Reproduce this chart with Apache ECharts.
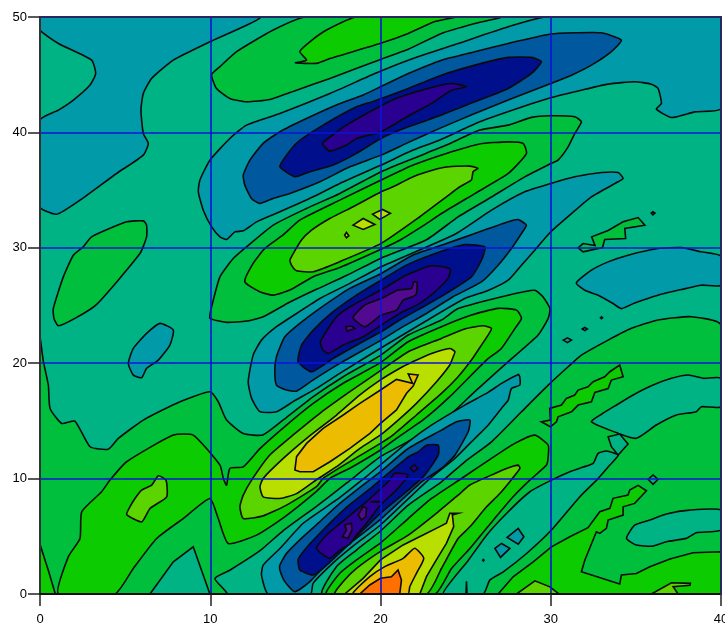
<!DOCTYPE html>
<html><head><meta charset="utf-8"><style>html,body{margin:0;padding:0;background:#fff}#c{width:725px;height:626px}</style>
<script src="https://cdn.jsdelivr.net/npm/echarts@6/dist/echarts.min.js"></script></head><body><div id="c"></div>
<script>
const xTicks=[0,10,20,30,40];
const yTicks=[0,10,20,30,40,50];
const levelColors=['#520a90','#2a0090','#000f8c','#00589e','#009aa8','#00b384','#00bf3c','#0ccb00','#5cd400','#b8df00','#ecbc00','#ff7000'];
const plotArea=[[0,0],[40,0],[40,50],[0,50]];
const lowTopLeft=[[0,50],[12.9,50],[9.98,47.85],[7.83,46.26],[6.56,44.68],[6.07,43.37],[5.93,41.93],[6.07,39.9],[6.36,39.04],[6.07,38.03],[4.5,36.44],[2.35,34.13],[0.98,32.91],[0,33.55],[0,41.06],[1.08,41.93],[1.96,42.8],[2.94,44.1],[3.27,45.1],[3.03,46.26],[1.08,47.7],[0,48.87]];
const upperL4=[[29.69,50],[27.5,49.15],[24.56,47.7],[21.63,46.26],[19.67,45.1],[17.03,43.37],[14.09,41.64],[12.13,40.63],[11.15,39.47],[9.98,37.59],[9.39,35.86],[9.3,34.85],[9.59,33.26],[10.08,31.81],[10.57,30.95],[10.96,30.72],[11.45,31.38],[11.94,31.47],[12.72,32.25],[14.09,33.12],[16.05,34.42],[17.61,35.58],[20.04,37.17],[21.92,38.47],[23.48,39.34],[25.83,40.92],[28.47,42.29],[30,43],[31.41,43.52],[33.37,44.18],[34.93,44.39],[35.91,44.18],[36.3,43.81],[36.5,42.51],[36.2,42.02],[37.09,41.29],[38.46,41.78],[40,42.07],[40,50]];
const upperL3=[[11.94,36.3],[12.33,37.6],[13.11,39.05],[14.09,40.06],[15.65,41.2],[17.41,42.37],[18.98,43.24],[20.06,44.0],[21.63,45.1],[23.58,46.26],[25.54,46.99],[27.5,47.71],[30,48.52],[31.41,48.63],[32.98,48.63],[34.15,48],[33.56,47],[32.39,45.83],[31.22,44.96],[30,44.24],[27.5,42.8],[25.54,41.64],[23.48,40.35],[21.52,39.05],[20.04,38.03],[18.2,37.02],[16.44,35.72],[14.68,34.71],[13.7,34.28],[12.91,33.84],[12.42,34.28],[12.03,35.43]];
const upperL2=[[14.09,37.02],[14.48,38.03],[15.16,39.19],[16.63,40.63],[18.59,42.22],[19.6,42.7],[21.63,43.81],[23.58,44.96],[25.93,45.98],[27.5,46.5],[28.87,46.5],[29.45,46.12],[28.87,45.11],[27.5,43.81],[25.54,42.65],[23.58,41.5],[21.63,40.48],[20.02,39.47],[18.59,38.18],[17.22,37.17],[15.85,36.59],[14.97,36.16]];
const upperL1=[[16.59,39.05],[17.32,39.91],[18,40.63],[19.57,41.94],[20.94,42.95],[23,43.89],[24.17,44.24],[25.05,43.95],[24.17,43.66],[23,42.51],[21.6,41.4],[20.04,40.06],[18.59,39.48],[18,38.9],[17.02,38.38]];
const topL6=[[15.6,50],[13.7,48.87],[11.55,47],[10.57,45.7],[10.08,45],[10.37,43.8],[11.15,42.94],[12.13,42.65],[13.5,42.85],[15.07,43.66],[17.03,44.68],[19.96,46.3],[21.63,47.2],[23.58,48.58],[25.54,49.44],[27.07,50]];
const topL7=[[18.6,50],[16.83,48.87],[15.85,47.85],[15.26,47],[15.66,46.26],[15,46.03],[16.24,45.98],[17.03,46.4],[19.96,47.7],[21.63,48.58],[23.19,49.6],[24.37,50]];
const ridgeL6=[[31.8,40.92],[31.41,41.35],[30,41.44],[28.87,41.3],[27.5,40.63],[25.83,40.2],[23.87,38.9],[21.92,37.74],[20.04,36.59],[17.61,34.71],[15.65,33.41],[13.7,31.97],[12.13,30.08],[11.35,29.07],[10.57,27.48],[10.08,24.88],[9.98,23.9],[10.96,23.54],[12.13,23.65],[13.11,24.03],[14.68,25.3],[16.24,26.4],[18,27.6],[20,29.08],[22.7,30.7],[24.56,32.68],[26.52,34.4],[28.47,36.15],[30,37.3],[30.43,37.6],[31.02,38.75],[31.41,39.9]];
const ridgeL7=[[12.03,27.06],[12.52,28.65],[13.21,29.95],[14.28,31.11],[15.26,32.4],[17.61,34.13],[20.04,35.87],[21.92,37.17],[23.87,38.18],[25.83,39.0],[27.5,39.18],[28.38,39.04],[28.57,38.17],[27.5,36.44],[25.54,34.7],[23.58,32.97],[22.7,32.1],[21.13,30.66],[20,29.86],[17.61,28.3],[16.05,27.5],[14.68,26.34],[13.7,25.9],[12.91,26.19]];
const ridgeL8=[[25.73,36.88],[25.24,37.08],[23.87,37],[23.29,36.82],[21.92,36.16],[20.74,35.29],[20.04,34.86],[18.39,33.56],[17.02,32.54],[15.95,31.53],[15.36,30.67],[14.68,28.94],[14.77,28.5],[15.07,28.01],[16.05,27.93],[17.61,28.8],[20.04,30.38],[22.31,32.69],[23.87,34.42],[24.66,35.29],[25.34,35.87],[25.44,36.6]];
const ridgeSpotA=[[18.39,31.96],[18.98,32.54],[19.67,32.02],[18.98,31.59]];
const ridgeSpotB=[[19.53,32.92],[20.12,33.32],[20.58,32.98],[19.96,32.46]];
const ridgeSpotC=[[17.89,31.1],[18,31.33],[18.14,31.04],[18,30.87]];
const leftBlobL4=[[5.19,19.98],[5.48,18.97],[5.97,18.74],[6.26,19.55],[6.95,20.27],[7.63,21.57],[7.83,22.87],[7.05,23.45],[6.26,22.58],[5.48,21.28]];
const leftBlobL6=[[0.78,24.73],[1.37,27.48],[1.96,29.36],[2.54,30.08],[3.03,30.95],[5.09,32.25],[6.07,32.33],[6.26,31.96],[6.26,30.95],[5.87,29.5],[3.33,25.1],[2.05,23.88],[1.08,23.25],[0.82,23.88]];
const rightBlobL4=[[31.5,26.96],[32.39,28.06],[33.37,28.78],[34.54,29.36],[36.3,29.94],[37.67,30.02],[38.84,29.65],[40,29.27],[40,26.76],[38.84,26.76],[37.67,26.38],[36.3,25.89],[34.93,25.22],[34.15,24.73],[33.66,25.17],[32.79,25.89],[32,26.32]];
const rightZigL6=[[31.6,30],[31.9,30.37],[32.6,30.2],[32.4,30.95],[33.37,31.5],[34.25,32.25],[35.13,32.62],[35.53,31.96],[34.35,31.67],[34.4,30.8],[33.17,30.72],[33.04,30.02],[31.9,29.65]];
const dotA=[[35.9,33],[36,33.12],[36.12,33],[36,32.85]];
const dotB=[[30.73,22],[30.98,22.2],[31.22,22],[30.98,21.78]];
const dotC=[[31.85,22.96],[32,23.1],[32.15,22.96],[32,22.82]];
const dotD=[[32.92,23.94],[32.98,24.02],[33.04,23.94],[32.98,23.86]];
const wideL6=[[0,22.15],[0.2,20.13],[0.49,18.1],[0.59,16.08],[1.27,14.78],[2.05,14.98],[2.94,12.76],[4.01,12.55],[4.6,13.48],[6.07,15.07],[8.22,16.66],[9.98,17.53],[10.47,16.66],[10.96,15.07],[11.94,13.91],[13.09,13.78],[14.29,15.08],[16.05,17.1],[17.81,18.83],[20,20.68],[21.63,22.44],[23.58,23.74],[24.56,24.73],[27.5,25.89],[29.06,26.32],[29.55,25.74],[29.95,24.73],[29.85,23.88],[29.26,22.44],[27.5,20.13],[25.54,17.54],[24.07,15.51],[22.11,13.6],[20,11.9],[18,9.6],[16.24,7.6],[14.29,5.5],[12.92,3.75],[11.15,2.06],[10.27,1.34],[10.96,0],[0,0]];
const bottomWedgeL5=[[6.46,0],[7.83,2.79],[9,4.09],[9.98,0]];
const cornerL7=[[0,0],[0.9,0],[0.5,2],[0,4.3]];
const wideL7=[[1.08,0],[1.66,3.22],[2.35,4.81],[2.45,7.12],[3.62,8.86],[4.11,9.87],[5.09,11.46],[7.83,13.77],[9,13.77],[10.57,11.17],[10.77,10],[10.96,9.43],[11.15,10.88],[11.94,11.02],[12.92,12.6],[14.48,14.64],[16.05,16.52],[17.81,18.26],[20,20.05],[21.63,21.86],[23.58,23.16],[25.34,24.17],[26.91,24.75],[27.99,24.6],[28.28,23.88],[27.89,23],[27.1,21.28],[26.22,20.27],[24.07,17.1],[22.5,15.08],[20.94,13.49],[20,12.48],[18.2,10.9],[17.03,10.02],[16.24,8.9],[14.29,6.6],[12.72,5.1],[11.06,4.38],[10.47,6.54],[9.98,8.28],[8.41,6.54],[6.85,4.81],[5.48,2.21],[4.4,0]];
const leftSpotL8=[[5.09,6.89],[5.97,6.25],[6.46,7.41],[7.44,8.42],[7.4,9.87],[6.95,10.24],[6.56,9.43],[5.97,9],[5.58,8.28],[5.28,7.55]];
const crestL8=[[11.74,7.55],[11.94,8.57],[12.43,9.87],[13.5,12.04],[14.87,13.78],[16.44,15.66],[18.2,17.53],[20,19.35],[21.63,20.99],[23.58,22.15],[24.95,22.96],[26.03,23.25],[26.52,23.02],[26.32,22.44],[25.93,21.57],[25.34,20.27],[24.56,18.83],[23.58,17.38],[22.11,15.51],[20.74,13.78],[20,13.05],[18.2,11.47],[16.63,10.02],[16.24,9.3],[14.48,7.7],[13.11,6.77],[11.94,6.54]];
const crestL9=[[12.92,9.29],[13.11,10.02],[14.29,11.75],[15.66,13.49],[17.42,15.51],[18.79,17.25],[20,18.55],[21.14,19.56],[21.92,20.14],[23,20.85],[24.07,21.28],[24.37,21],[24.27,20.56],[24.07,19.85],[23.29,18.4],[22.11,16.52],[21.14,15.2],[20,13.78],[18.79,12.62],[17.42,11.03],[16.24,9.9],[15.07,8.7],[14.09,8.28],[13.11,8.42]];
const crestL10=[[22.21,18.98],[21.63,19.07],[21.88,18.26],[20.94,18.6],[20,17.68],[18.79,16.52],[17.81,15.51],[16.63,14.36],[15.66,13.05],[15.07,11.9],[14.97,10.74],[15.26,10.6],[16.05,10.6],[17.03,11.46],[18.2,12.62],[19.38,13.92],[20,14.79],[20.94,15.95],[21.53,17.39],[21.92,18.03]];
const midL4=[[34.25,36],[33.96,36.52],[32.98,36.52],[31.41,36.15],[30,35.57],[28.47,34.85],[26.52,33.26],[24.4,31.2],[20.04,28.36],[18.2,26.92],[16.44,25.61],[15.07,24.31],[13.89,23.16],[13.01,22],[12.52,20.7],[12.23,18.4],[12.43,16.95],[12.92,15.8],[13.9,15.8],[14.87,16.67],[16.24,17.82],[17.61,19.12],[20,21.3],[22.5,23.5],[24.95,25.6],[26.32,26.3],[27.5,27.19],[28.28,28.49],[29.06,29.79],[30,31.39],[31.22,32.97],[32.39,34.42],[33.96,35.72]];
const midL3=[[13.79,19.4],[13.89,20.56],[14.38,22.29],[15.26,23.45],[16.44,24.75],[18.2,26.48],[20.04,27.78],[21.92,29.37],[23.58,30.22],[25.54,31.24],[27.5,32.25],[28.08,32.45],[28.57,31.96],[28.28,31.24],[27.69,29.94],[26.91,28.49],[25.93,27.04],[24.26,25.76],[22.7,24.31],[21.13,23],[20.04,22],[17.61,19.98],[16.03,18.53],[15.07,17.58],[14.48,17.67],[13.89,18.1]];
const midL2=[[15.16,20.12],[15.36,21.57],[16.05,22.87],[17.22,24.46],[18.59,25.9],[20.04,27.2],[21.52,28.5],[23.58,29.7],[24.96,30.28],[26.13,30.08],[25.93,28.92],[25.34,27.48],[23.87,26.05],[22.7,25.04],[21.13,23.74],[20.04,22.72],[18.78,21.71],[17.22,20.41],[15.95,19.26]];
const midL1=[[16.47,21.86],[17.42,24.03],[18.39,25.04],[20.04,26.34],[21.52,27.64],[22.89,28.42],[23.68,28.36],[24.11,28.13],[23.97,27.35],[23.09,26.05],[22.31,25.18],[21.13,24.31],[20.04,23.3],[18.98,22.29],[17.81,21.57],[16.93,20.85],[16.63,21.13]];
const midL0=[[18.39,23.97],[19.08,25.04],[20.04,25.61],[21.04,26.34],[21.82,26.48],[21.96,27.06],[22.15,27],[22.07,25.9],[21.33,25.47],[20.94,24.6],[20.04,24.17],[19.08,23.16]];
const midSpotL0=[[17.96,23.16],[18.3,23.22],[18.49,23.01],[18.04,22.78]];
const wideRightL6=[[20,5.46],[21.63,7.7],[23.58,9.72],[24.95,11.46],[26.52,13.19],[28.28,15.79],[29.85,18.1],[31.02,19.69],[31.8,20.7],[33.37,22],[34.74,23.02],[36.3,23.74],[38.26,24.03],[40,23.3],[40,0],[16.6,0],[17.41,2.37],[18.59,3.81]];
const tongueL5=[[23.68,0],[25.15,2.9],[26.23,5.1],[27.4,6.98],[28.77,8.86],[30.04,9.87],[31.12,10.6],[31.9,11],[32.49,11.32],[32.78,12.18],[33.27,12.39],[33.96,12.04],[33.47,11.17],[32.78,10],[31.71,8.43],[30.04,5.54],[28.58,3.51],[27.21,1.92],[26.42,1.2],[26.03,0]];
const tongueSpike=[[25.02,0],[25.05,1.1],[25.08,0]];
const tongueDot=[[26,2.93],[26.04,3.0],[26.08,2.93],[26.04,2.86]];
const tongueSpotA=[[27.44,4.9],[28.09,5.68],[28.42,4.96],[28.09,4.32]];
const tongueSpotB=[[26.72,3.95],[27.11,4.38],[27.6,3.95],[27.05,3.17]];
const rightL7=[[26.91,0],[27.79,1.49],[28.97,2.79],[30.04,4.09],[31.12,4.96],[32.19,5.75],[32.88,7.13],[33.47,7.42],[33.66,8.29],[34.54,8.57],[34.64,9.01],[35.13,9.41],[35.62,8.95],[34.93,7.85],[34.25,7.56],[34.25,6.84],[33.37,6.41],[33.27,5.69],[32.88,5.25],[32.68,5.39],[32,2.93],[31.8,1.92],[34.05,0.86],[34.15,1.64],[35.03,1.78],[35.82,2.36],[37,3.03],[38.36,3.57],[40,3.66],[40,0]];
const rightZigL7=[[29.45,14.92],[29.98,15.07],[29.94,16.08],[30.63,16.37],[30.92,16.95],[31.41,17.24],[31.61,17.67],[32.19,17.96],[32.49,18.39],[33.17,18.83],[33.47,19.26],[34.05,19.84],[34.25,18.83],[33.56,18.54],[33.37,17.81],[32.59,17.47],[32.39,16.66],[31.61,16.37],[31.22,15.79],[30.43,15.36],[30.34,14.92],[29.98,14.49]];
const bumpA=[[27.99,0],[29.07,1.14],[29.95,0.62],[30.49,0]];
const bumpB=[[35.91,0],[37.09,0.97],[38.2,0.92],[38.18,0.75],[37.19,0.63],[37.48,0]];
const rightBlobA=[[32.39,14.92],[33.0,15.6],[33.86,16.38],[34.84,17.25],[36.01,18.11],[37.09,18.69],[38.07,18.98],[38.95,18.69],[40,18.69],[40,16.23],[38.85,16.23],[38.55,15.8],[37.38,15.51],[36.2,14.64],[35.03,13.49],[33.96,13.92]];
const rightBlobB=[[34.45,4.82],[34.93,5.97],[35.82,6.41],[36.79,6.93],[38.16,7.27],[40,7.27],[40,5.54],[38.55,5.31],[37.97,4.82],[36.79,4.53],[36.01,4.15],[35.03,4.24]];
const rightChip=[[33.37,13.63],[34.05,13.86],[34.54,13],[33.96,12.04],[33.56,12.77]];
const rightDiamond=[[35.72,9.93],[36.01,10.31],[36.3,9.93],[36.01,9.5]];
const lowL4=[[13.4,0],[13.01,1.63],[13.11,2.5],[14.09,3.94],[15.46,6.13],[17.41,8.15],[19.18,10.2],[20,11.2],[21.63,13.19],[22.99,14.63],[24.95,16.37],[26.32,17.47],[27.11,18.25],[28.09,19.03],[28.18,18.83],[28.18,18.1],[27.69,17.81],[27.5,16.8],[27.1,16.08],[26.32,14.63],[25.54,13.48],[24.37,11.75],[22.8,9.87],[20,5.98],[18.59,4.39],[17.41,2.95],[16.04,0.92],[15.9,0]];
const lowL3=[[14.09,2.51],[14.48,3.52],[15.46,4.97],[16.44,6.27],[17.41,7.6],[18.59,9.0],[20,10.6],[21.63,12.61],[23.58,14.2],[24.46,14.93],[25.25,15.07],[25.15,14.06],[24.37,12.03],[23.58,10.88],[22.41,9.72],[20,6.47],[18.59,4.83],[17.41,3.52],[15.85,1.07],[14.97,0.2],[14.38,1.07],[14.09,2.08]];
const lowL2=[[15.16,2.95],[15.46,3.67],[16.44,5.26],[18,7.5],[19.37,9.1],[20,9.9],[21.63,11.89],[22.21,12.32],[22.7,12.9],[23.39,12.9],[23.39,12.03],[22.6,10.3],[21.63,9],[20,6.99],[18.98,5.55],[17.8,3.81],[16.63,2.22],[16.04,1.65],[15.26,2.08]];
const lowL1=[[16.24,3.96],[16.83,5.11],[18,6.56],[19.18,8],[20.55,9.88],[20.84,10.46],[21.62,10.32],[20.94,9.02],[20,7.71],[19.18,6.13],[18.59,5.11],[18.2,4.33],[17.61,3.81],[17.02,3.09]];
const lowSpotL1=[[21.75,10.9],[22,11.2],[22.2,10.85],[21.95,10.6]];
const lowMark=[[19.4,8],[20,8.03],[20,7.97]];
const lowL0A=[[18.69,6.85],[18.98,7.57],[19.18,7.43],[19.14,6.7],[18.88,6.41]];
const lowL0B=[[17.9,5.98],[18.29,6.13],[18.33,5.55],[18.1,4.83],[17.77,4.97],[18,5.55]];
const peakL7=[[16.83,0],[17.61,1.79],[18.59,2.95],[20.02,4.45],[21.63,6.54],[23,8.28],[24.76,10.01],[26.52,11.75],[27.89,13.05],[29.06,13.77],[29.85,12.9],[29.85,11.9],[29.75,11.17],[28.77,9.87],[27.79,8.43],[26.62,6.4],[25.25,3.95],[24.17,2.21],[23.19,0]];
const peakL8=[[17.32,0],[17.8,1.07],[18.59,2.22],[20,3.7],[21.63,5.1],[23.39,7.12],[24.56,8.57],[25.25,9.44],[26.72,10.45],[27.4,10.88],[28.09,11.17],[28.19,10.88],[27.7,9.93],[27.01,8.71],[26.23,7.56],[25.25,5.82],[24.56,4.81],[23.58,2.21],[22.7,0]];
const peakL9=[[17.9,0],[18.98,1.36],[20,2.95],[21.33,4.25],[22.5,5.11],[23.48,5.84],[23.87,6.13],[24.07,6.99],[24.56,6.99],[24.22,6.85],[24.3,5.84],[23.87,4.39],[23.28,2.95],[22.7,1.5],[22.31,0]];
const peakL10=[[18.39,0],[19.37,1.5],[20.25,2.37],[21.33,3.09],[22.01,3.96],[22.54,3.09],[22.11,1.79],[21.72,0.63],[21.62,0]];
const peakL11=[[18.78,0],[19.37,0.78],[20,1.36],[20.64,1.5],[21.03,2.08],[21.23,1.21],[21.13,0]];

const contourBands=[
 [5,plotArea],[4,lowTopLeft],[4,upperL4],[3,upperL3],[2,upperL2],[1,upperL1],[6,topL6],[7,topL7],
 [6,ridgeL6],[7,ridgeL7],[8,ridgeL8],[9,ridgeSpotA],[9,ridgeSpotB],[9,ridgeSpotC],
 [4,leftBlobL4],[6,leftBlobL6],[4,rightBlobL4],[6,rightZigL6],[4,dotA],[4,dotB],[4,dotC],[4,dotD],
 [6,wideL6],[5,bottomWedgeL5],[7,cornerL7],[7,wideL7],[8,leftSpotL8],[8,crestL8],[9,crestL9],[10,crestL10],
 [4,midL4],[3,midL3],[2,midL2],[1,midL1],[0,midL0],[0,midSpotL0],
 [6,wideRightL6],[5,tongueL5],[6,tongueSpike],[4,tongueDot],[4,tongueSpotA],[4,tongueSpotB],
 [7,rightL7],[7,rightZigL7],[8,bumpA],[8,bumpB],[5,rightBlobA],[5,rightBlobB],[5,rightChip],[5,rightDiamond],
 [4,lowL4],[3,lowL3],[2,lowL2],[1,lowL1],[1,lowSpotL1],[1,lowMark],[0,lowL0A],[0,lowL0B],
 [7,peakL7],[8,peakL8],[9,peakL9],[10,peakL10],[11,peakL11]
];
const jaggedBands=[plotArea,rightL7,rightZigL7,rightZigL6,crestL10,peakL9,lowL0B];

const chart=echarts.init(document.getElementById('c'),null,{renderer:'canvas'});
const labelStyle={color:'#000',fontFamily:'Liberation Sans Narrow, Liberation Sans, sans-serif',fontSize:13};
const gridLines={show:true,lineStyle:{color:'#0a14d8',width:1.6}};
chart.setOption({
 animation:false,
 grid:{left:40,right:4,top:17,bottom:32,containLabel:false,outerBoundsMode:'none'},
 xAxis:[
  {type:'value',min:xTicks[0],max:xTicks[xTicks.length-1],interval:10,z:5,splitLine:gridLines,
   axisLine:{show:true,onZero:false,lineStyle:{color:'#111',width:2}},axisTick:{show:true,length:12,lineStyle:{color:'#222',width:1.5}},
   axisLabel:Object.assign({margin:19,showMinLabel:true,showMaxLabel:true,hideOverlap:false},labelStyle)},
  {type:'value',position:'top',min:xTicks[0],max:xTicks[xTicks.length-1],interval:10,z:6,splitLine:{show:false},
   axisLine:{show:true,onZero:false,lineStyle:{color:'#26285e',width:2}},axisTick:{show:false},axisLabel:{show:false}}
 ],
 yAxis:[
  {type:'value',min:yTicks[0],max:yTicks[yTicks.length-1],interval:10,z:5,splitLine:gridLines,
   axisLine:{show:true,onZero:false,lineStyle:{color:'#333',width:2}},axisTick:{show:true,length:12,lineStyle:{color:'#222',width:1.5}},
   axisLabel:Object.assign({margin:13},labelStyle)},
  {type:'value',position:'right',min:yTicks[0],max:yTicks[yTicks.length-1],interval:10,z:6,splitLine:{show:false},
   axisLine:{show:true,onZero:false,lineStyle:{color:'#26285e',width:2}},axisTick:{show:false},axisLabel:{show:false}}
 ],
 series:[{
  type:'custom',coordinateSystem:'cartesian2d',clip:true,silent:true,z:2,
  data:contourBands.map((b,i)=>[i]),
  encode:{x:[],y:[]},
  renderItem:(params,api)=>{
   const band=contourBands[api.value(0)];
   const smooth=band[1].length>8&&!jaggedBands.includes(band[1])?0.18:0;
   return {type:'polygon',shape:{points:band[1].map(p=>api.coord(p)),smooth:smooth},
    style:{fill:levelColors[band[0]],stroke:'#0a0a0a',lineWidth:1.6}};
  }
 }]
});
</script></body></html>
